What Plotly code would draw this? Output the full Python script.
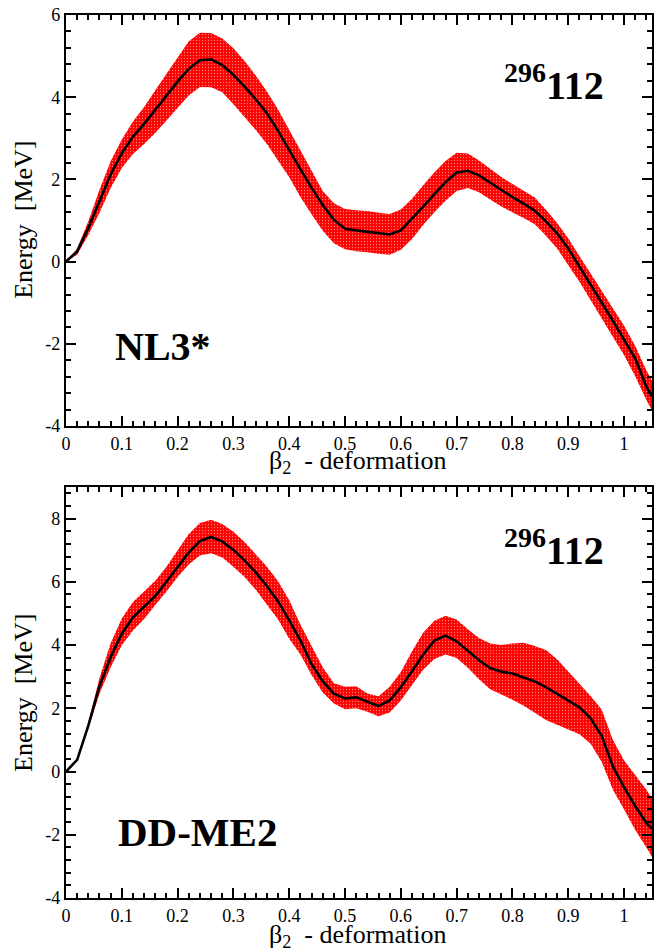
import plotly.graph_objects as go

# ---------------- data ----------------
beta = [0.00, 0.02, 0.04, 0.06, 0.08, 0.10, 0.12, 0.14, 0.16, 0.18,
        0.20, 0.22, 0.24, 0.26, 0.28, 0.30, 0.32, 0.34, 0.36, 0.38,
        0.40, 0.42, 0.44, 0.46, 0.48, 0.50, 0.52, 0.54, 0.56, 0.58,
        0.60, 0.62, 0.64, 0.66, 0.68, 0.70, 0.72, 0.74, 0.76, 0.78,
        0.80, 0.82, 0.84, 0.86, 0.88, 0.90, 0.92, 0.94, 0.96, 0.98,
        1.00, 1.02, 1.04, 1.05]

nl3_mid = [0.00, 0.25, 0.82, 1.47, 2.12, 2.64, 3.04, 3.35, 3.69, 4.03,
           4.38, 4.69, 4.90, 4.92, 4.78, 4.54, 4.26, 3.95, 3.61, 3.18,
           2.70, 2.25, 1.80, 1.38, 1.02, 0.80, 0.76, 0.73, 0.69, 0.66,
           0.76, 1.04, 1.34, 1.64, 1.93, 2.17, 2.21, 2.10, 1.92, 1.73,
           1.57, 1.41, 1.24, 0.98, 0.69, 0.32, -0.11, -0.55, -1.00, -1.44,
           -1.89, -2.36, -3.04, -3.28]
nl3_lo = [0.00, 0.17, 0.65, 1.19, 1.79, 2.28, 2.62, 2.86, 3.13, 3.43,
          3.74, 4.04, 4.25, 4.24, 4.12, 3.83, 3.52, 3.20, 2.86, 2.47,
          2.05, 1.57, 1.15, 0.75, 0.45, 0.30, 0.25, 0.23, 0.19, 0.17,
          0.29, 0.55, 0.89, 1.20, 1.48, 1.72, 1.79, 1.69, 1.51, 1.34,
          1.20, 1.06, 0.91, 0.63, 0.32, -0.09, -0.49, -0.93, -1.40, -1.84,
          -2.28, -2.79, -3.37, -3.62]
nl3_hi = [0.00, 0.32, 0.98, 1.75, 2.44, 2.97, 3.41, 3.76, 4.17, 4.57,
          4.99, 5.36, 5.57, 5.56, 5.43, 5.19, 4.88, 4.53, 4.14, 3.70,
          3.20, 2.71, 2.20, 1.72, 1.42, 1.28, 1.25, 1.23, 1.19, 1.16,
          1.27, 1.53, 1.86, 2.17, 2.45, 2.65, 2.63, 2.46, 2.26, 2.06,
          1.89, 1.73, 1.56, 1.26, 0.94, 0.56, 0.13, -0.30, -0.72, -1.13,
          -1.56, -2.05, -2.65, -2.90]

ddme2_mid = [0.00, 0.37, 1.45, 2.70, 3.62, 4.36, 4.88, 5.21, 5.55, 6.00,
             6.47, 6.93, 7.29, 7.42, 7.28, 7.01, 6.68, 6.30, 5.87, 5.38,
             4.78, 4.15, 3.40, 2.86, 2.46, 2.31, 2.35, 2.21, 2.07, 2.25,
             2.67, 3.17, 3.70, 4.14, 4.30, 4.12, 3.81, 3.52, 3.27, 3.16,
             3.10, 2.98, 2.85, 2.67, 2.46, 2.25, 2.03, 1.68, 1.12, 0.16,
             -0.50, -1.09, -1.63, -1.80]
ddme2_lo = [0.00, 0.37, 1.36, 2.46, 3.30, 3.99, 4.46, 4.82, 5.27, 5.69,
            6.15, 6.55, 6.83, 6.90, 6.77, 6.48, 6.15, 5.75, 5.29, 4.81,
            4.20, 3.70, 3.05, 2.50, 2.15, 1.97, 2.00, 1.89, 1.75, 1.87,
            2.25, 2.74, 3.22, 3.56, 3.70, 3.59, 3.28, 2.92, 2.60, 2.44,
            2.27, 2.08, 1.86, 1.63, 1.49, 1.33, 1.18, 0.88, 0.30, -0.58,
            -1.20, -1.85, -2.40, -2.70]
ddme2_hi = [0.00, 0.37, 1.55, 2.96, 4.06, 4.84, 5.36, 5.69, 6.03, 6.48,
            6.99, 7.51, 7.86, 7.96, 7.83, 7.58, 7.26, 6.88, 6.48, 6.02,
            5.42, 4.65, 3.95, 3.30, 2.79, 2.68, 2.70, 2.47, 2.38, 2.68,
            3.15, 3.80, 4.39, 4.77, 4.93, 4.81, 4.50, 4.22, 4.05, 4.00,
            4.05, 4.07, 3.97, 3.84, 3.55, 3.16, 2.79, 2.39, 1.95, 1.00,
            0.35, -0.10, -0.58, -0.85]

x_tickvals = [0, 0.1, 0.2, 0.3, 0.4, 0.5, 0.6, 0.7, 0.8, 0.9, 1.0]
x_ticktext = ["0", "0.1", "0.2", "0.3", "0.4", "0.5", "0.6", "0.7", "0.8", "0.9", "1"]
y1_tickvals = [-4, -2, 0, 2, 4, 6]
y1_ticktext = ["-4", "-2", "0", "2", "4", "6"]
y2_tickvals = [-4, -2, 0, 2, 4, 6, 8]
y2_ticktext = ["-4", "-2", "0", "2", "4", "6", "8"]

panel_labels = ["NL3*", "DD-ME2"]
nucleus_label = "<sup>296</sup>112"
x_title = "β<sub>2</sub>\u00a0 - deformation"
y_title = "Energy\u00a0 [MeV]"

# ---------------- figure ----------------
FONT = "Liberation Serif"
RED = "#ff0000"

fig = go.Figure()


def add_panel(lo, hi, mid, xa, ya):
    fig.add_trace(go.Scatter(
        x=beta + beta[::-1], y=hi + lo[::-1],
        xaxis=xa, yaxis=ya, mode="lines", fill="toself",
        fillcolor=RED, line=dict(width=0, color=RED),
        fillpattern=dict(shape=".", bgcolor=RED, fgcolor="white",
                         size=3, solidity=0.15),
        hoverinfo="skip", showlegend=False))
    fig.add_trace(go.Scatter(
        x=beta, y=mid, xaxis=xa, yaxis=ya, mode="lines",
        line=dict(color="black", width=2.6), showlegend=False))


add_panel(nl3_lo, nl3_hi, nl3_mid, "x", "y")
add_panel(ddme2_lo, ddme2_hi, ddme2_mid, "x2", "y2")

axis_common = dict(
    showline=True, linecolor="black", linewidth=2.2, mirror="ticks",
    ticks="inside", ticklen=10, tickwidth=2, tickcolor="black",
    showgrid=False, zeroline=False, automargin=False,
    tickfont=dict(family=FONT, size=18, color="black"),
)

xaxis_common = dict(axis_common, range=[0, 1.05], tickmode="array",
                    tickvals=x_tickvals, ticktext=x_ticktext,
                    minor=dict(tickmode="linear", tick0=0, dtick=0.02,
                               ticks="inside", ticklen=5, tickwidth=2,
                               tickcolor="black", showgrid=False))

fig.update_layout(
    width=657, height=952,
    margin=dict(l=66, r=5, t=15, b=54),
    paper_bgcolor="white", plot_bgcolor="white",
    xaxis=dict(xaxis_common, domain=[0, 1], anchor="y"),
    yaxis=dict(axis_common, domain=[0.5345, 1.0], anchor="x", range=[-4, 6],
               tickmode="array", tickvals=y1_tickvals, ticktext=y1_ticktext,
               minor=dict(tickmode="linear", tick0=-4, dtick=0.4,
                          ticks="inside", ticklen=5, tickwidth=2,
                          tickcolor="black", showgrid=False)),
    xaxis2=dict(xaxis_common, domain=[0, 1], anchor="y2"),
    yaxis2=dict(axis_common, domain=[0.0, 0.4655], anchor="x2", range=[-4, 9],
                tickmode="array", tickvals=y2_tickvals, ticktext=y2_ticktext,
                minor=dict(tickmode="linear", tick0=-4, dtick=0.4,
                           ticks="inside", ticklen=5, tickwidth=2,
                           tickcolor="black", showgrid=False)),
)

title_font = dict(family=FONT, size=26, color="black")
big_font = dict(family=FONT, size=40, color="black")

annotations = [
    # y titles
    dict(text=y_title, xref="paper", yref="paper", x=-0.0717, y=0.768,
         textangle=-90, showarrow=False, font=title_font,
         xanchor="center", yanchor="middle"),
    dict(text=y_title, xref="paper", yref="paper", x=-0.0717, y=0.2322,
         textangle=-90, showarrow=False, font=title_font,
         xanchor="center", yanchor="middle"),
    # x titles
    dict(text=x_title, xref="paper", yref="paper", x=0.498, y=0.4938,
         showarrow=False, font=title_font, xanchor="center", yanchor="middle"),
    dict(text=x_title, xref="paper", yref="paper", x=0.498, y=-0.0435,
         showarrow=False, font=title_font, xanchor="center", yanchor="middle"),
    # panel labels
    dict(text="<b>%s</b>" % panel_labels[0], xref="x", yref="y", x=0.084, y=-2.07,
         showarrow=False, font=big_font, xanchor="left", yanchor="middle"),
    dict(text="<b>%s</b>" % panel_labels[1], xref="x2", yref="y2", x=0.0895, y=-1.91,
         showarrow=False, font=dict(big_font, size=41), xanchor="left", yanchor="middle"),
    dict(text="<b>%s</b>" % nucleus_label, xref="x", yref="y", x=0.968, y=4.35,
         showarrow=False, font=big_font, xanchor="right", yanchor="middle"),
    dict(text="<b>%s</b>" % nucleus_label, xref="x2", yref="y2", x=0.968, y=7.1,
         showarrow=False, font=big_font, xanchor="right", yanchor="middle"),
]
fig.update_layout(annotations=annotations)

fig.write_html(
    "out.html",
    config={"displayModeBar": False},
    post_script="document.body.style.margin='0';document.body.style.overflow='hidden';",
)
